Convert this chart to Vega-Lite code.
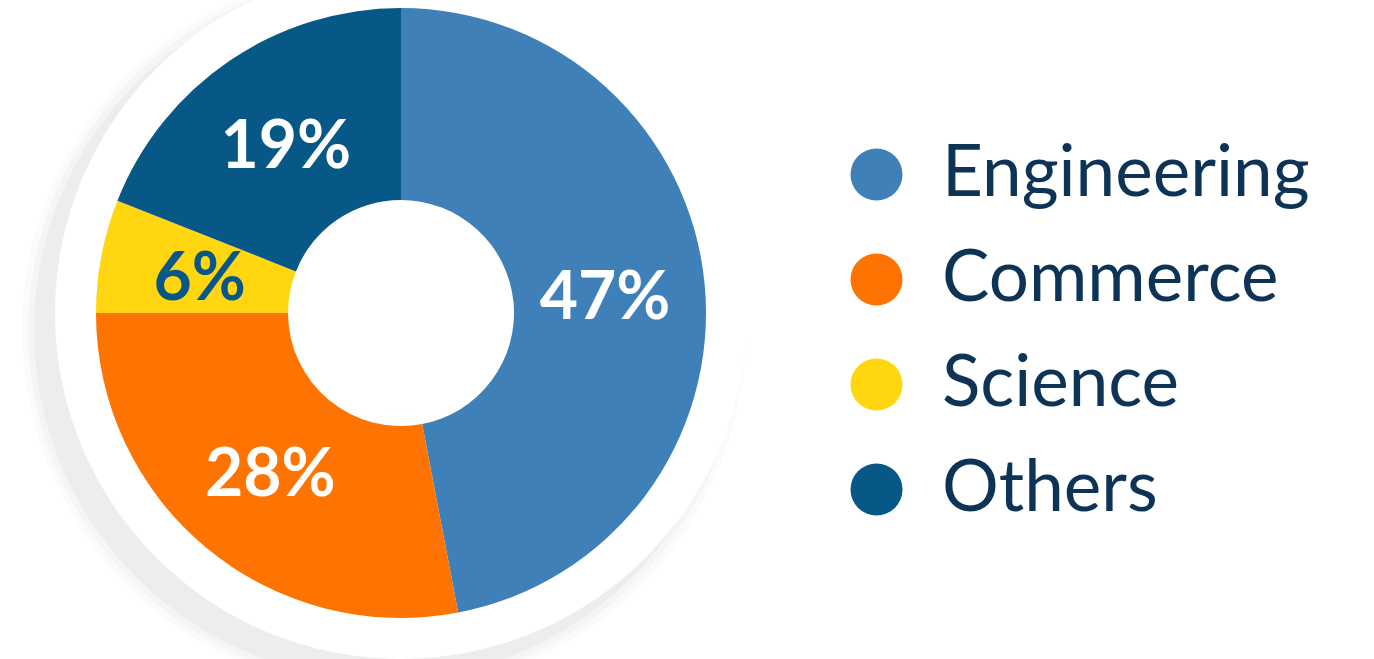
{
  "$schema": "https://vega.github.io/schema/vega-lite/v6.json",
  "autosize": {"type": "none"},
  "width": 802,
  "height": 626,
  "padding": {"left": 0, "top": 0, "right": 572, "bottom": 33},
  "background": "white",
  "config": {"view": {"stroke": null}},
  "layer": [
    {
      "data": {"values": [{"r": 362, "o": 0.03}, {"r": 356, "o": 0.045}, {"r": 350, "o": 0.06}]},
      "mark": {"type": "arc", "theta": 6.2832, "color": "#707070", "xOffset": -17, "yOffset": 17},
      "encoding": {
        "radius": {"field": "r", "type": "quantitative", "scale": null, "stack": null},
        "opacity": {"field": "o", "type": "quantitative", "scale": null}
      }
    },
    {
      "data": {"values": [{"r": 346}]},
      "mark": {"type": "arc", "theta": 6.2832, "color": "white"},
      "encoding": {"radius": {"field": "r", "type": "quantitative", "scale": null, "stack": null}}
    },
    {
      "data": {"name": "shares"},
      "mark": {"type": "arc", "radius": 305, "radius2": 113},
      "encoding": {
        "theta": {"field": "value", "type": "quantitative", "stack": true},
        "order": {"field": "idx", "type": "quantitative"},
        "color": {
          "field": "category",
          "type": "nominal",
          "scale": {
            "domain": ["Engineering", "Commerce", "Science", "Others"],
            "range": ["#3F80B8", "#FF7300", "#FFD60F", "#075887"]
          },
          "legend": {
            "title": null,
            "orient": "none",
            "legendX": 841,
            "legendY": 139,
            "symbolType": "circle",
            "symbolSize": 2704,
            "symbolStrokeWidth": 0,
            "labelFont": "Lato",
            "labelFontSize": 71,
            "labelColor": "#0D3457",
            "labelOffset": 30,
            "labelLimit": 0,
            "rowPadding": 33,
            "padding": 0
          }
        }
      }
    },
    {
      "data": {"name": "shares"},
      "mark": {"type": "text", "radius": 205, "dy": 5, "font": "Lato", "fontWeight": "bold", "fontSize": 66, "align": "center", "baseline": "middle"},
      "encoding": {
        "theta": {"field": "value", "type": "quantitative", "stack": true},
        "order": {"field": "idx", "type": "quantitative"},
        "text": {"field": "label", "type": "nominal"},
        "color": {"condition": {"test": "datum.category === 'Science'", "value": "#075887"}, "value": "white"}
      }
    }
  ],
  "datasets": {
    "shares": [
      {"idx": 1, "category": "Engineering", "value": 47, "label": "47%"},
      {"idx": 2, "category": "Commerce", "value": 28, "label": "28%"},
      {"idx": 3, "category": "Science", "value": 6, "label": "6%"},
      {"idx": 4, "category": "Others", "value": 19, "label": "19%"}
    ]
  }
}
